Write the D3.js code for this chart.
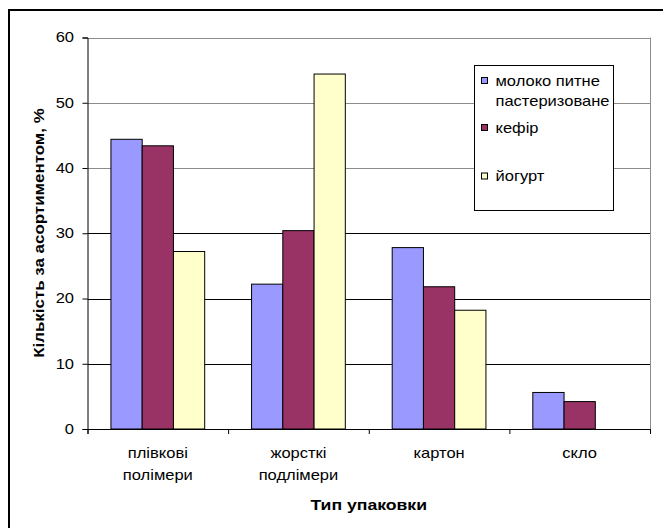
<!DOCTYPE html>
<html>
<head>
<meta charset="utf-8">
<script src="https://cdn.jsdelivr.net/npm/d3@7"></script>
<style>
  html, body { margin: 0; padding: 0; background: #fff; }
  svg { display: block; }
  text { font-family: "Liberation Sans", Arial, sans-serif; }
</style>
</head>
<body>
<svg id="chart" width="663" height="528"></svg>
<script>
const categories = [["плівкові", "полімери"], ["жорсткі", "подлімери"], ["картон"], ["скло"]];
const seriesNames = [["молоко питне", "пастеризоване"], ["кефір"], ["йогурт"]];
const milk   = [44.4, 22.2, 27.8, 5.6];
const kefir  = [43.4, 30.4, 21.8, 4.2];
const yogurt = [27.2, 54.4, 18.2, 0];
const yTicks = [0, 10, 20, 30, 40, 50, 60];
const colors = ["#9999ff", "#993366", "#ffffcc"];
const yTitle = "Кількість за асортиментом, %";
const xTitle = "Тип упаковки";

(function () {
const series = [milk, kefir, yogurt];
const svg = d3.select("#chart");
const SX = 1.18, SXB = 1.26, FS = 14;

function label(parent, str, px, py, opts = {}) {
  const rot = opts.rotate ? ` rotate(${opts.rotate})` : "";
  const sx = opts.sx || (opts.bold ? SXB : SX);
  return parent.append("text")
    .attr("transform", `translate(${px},${py})${rot} scale(${sx},1)`)
    .attr("text-anchor", opts.anchor || "start")
    .attr("font-size", FS)
    .attr("font-weight", opts.bold ? "bold" : "normal")
    .attr("fill", "#000")
    .text(str);
}

// outer frame
svg.append("rect").attr("x", 9).attr("y", 10).attr("width", 662).attr("height", 530)
  .attr("fill", "none").attr("stroke", "#000").attr("stroke-width", 2);

const pL = 87.5, pR = 650, pT = 37.5, pB = 429;
const x = d3.scaleBand().domain(d3.range(categories.length)).range([pL, pR]);
const y = d3.scaleLinear().domain([0, 60]).range([pB, pT]);

// gridlines
svg.append("g").selectAll("line").data(yTicks.filter(d => d > 0)).join("line")
  .attr("x1", pL).attr("x2", pR)
  .attr("y1", d => Math.round(y(d)) + 0.5).attr("y2", d => Math.round(y(d)) + 0.5)
  .attr("stroke", d => d >= 40 ? "#8c8c8c" : "#000").attr("stroke-width", 1);

// right border of plot
svg.append("line").attr("x1", pR + 0.5).attr("x2", pR + 0.5).attr("y1", pT).attr("y2", pB)
  .attr("stroke", "#8c8c8c");

// bars: group 3w, outer gap 0.75w each side
const bw = x.bandwidth() / 4.5;
const gBars = svg.append("g");
series.forEach((vals, si) => {
  gBars.selectAll(null).data(vals.map((v, ci) => ({v, ci})).filter(d => d.v > 0)).join("rect")
    .attr("x", d => x(d.ci) + 0.75 * bw + si * bw)
    .attr("y", d => y(d.v))
    .attr("width", bw)
    .attr("height", d => y(0) - y(d.v))
    .attr("fill", colors[si])
    .attr("stroke", "#000").attr("stroke-width", 1);
});

// y axis
const yAxis = d3.axisLeft(y).tickValues(yTicks).tickSize(5).tickPadding(5);
const gy = svg.append("g").attr("transform", `translate(${pL},0)`).call(yAxis);
gy.select(".domain").attr("stroke", "#000");
gy.selectAll(".tick line").attr("stroke", "#000");
gy.selectAll(".tick text").attr("x", 0).attr("transform", `translate(-13.5,0) scale(${SX},1)`)
  .attr("font-size", FS).attr("font-family", "Liberation Sans, Arial, sans-serif").attr("fill", "#000");

// x axis with ticks at category boundaries
const xb = d3.scaleLinear().domain([0, categories.length]).range([pL, pR]);
const xAxis = d3.axisBottom(xb).tickValues(d3.range(categories.length + 1)).tickSize(5).tickFormat("");
const gx = svg.append("g").attr("transform", `translate(0,${pB})`).call(xAxis);
gx.select(".domain").attr("stroke", "#000");
gx.selectAll(".tick line").attr("stroke", "#000");

// category labels
const gCat = svg.append("g");
categories.forEach((lines, ci) => {
  const cx = x(ci) + x.bandwidth() / 2;
  lines.forEach((l, li) => label(gCat, l, cx, 458 + li * 21.5, {anchor: "middle"}));
});

// axis titles
label(svg, xTitle, (pL + pR) / 2, 510, {anchor: "middle", bold: true});
label(svg, yTitle, 44, 233, {anchor: "middle", bold: true, rotate: -90, sx: 1.21});

// legend
const lg = svg.append("g");
lg.append("rect").attr("x", 474.5).attr("y", 65.5).attr("width", 139).attr("height", 145)
  .attr("fill", "#fff").attr("stroke", "#000");
const legendY = [85.5, 132.5, 181];
seriesNames.forEach((lines, si) => {
  lg.append("rect").attr("x", 481.5).attr("y", legendY[si] - 8).attr("width", 6).attr("height", 6)
    .attr("fill", colors[si]).attr("stroke", "#000");
  lines.forEach((l, li) => label(lg, l, 495.5, legendY[si] + li * 20));
});
})();
</script>
</body>
</html>
